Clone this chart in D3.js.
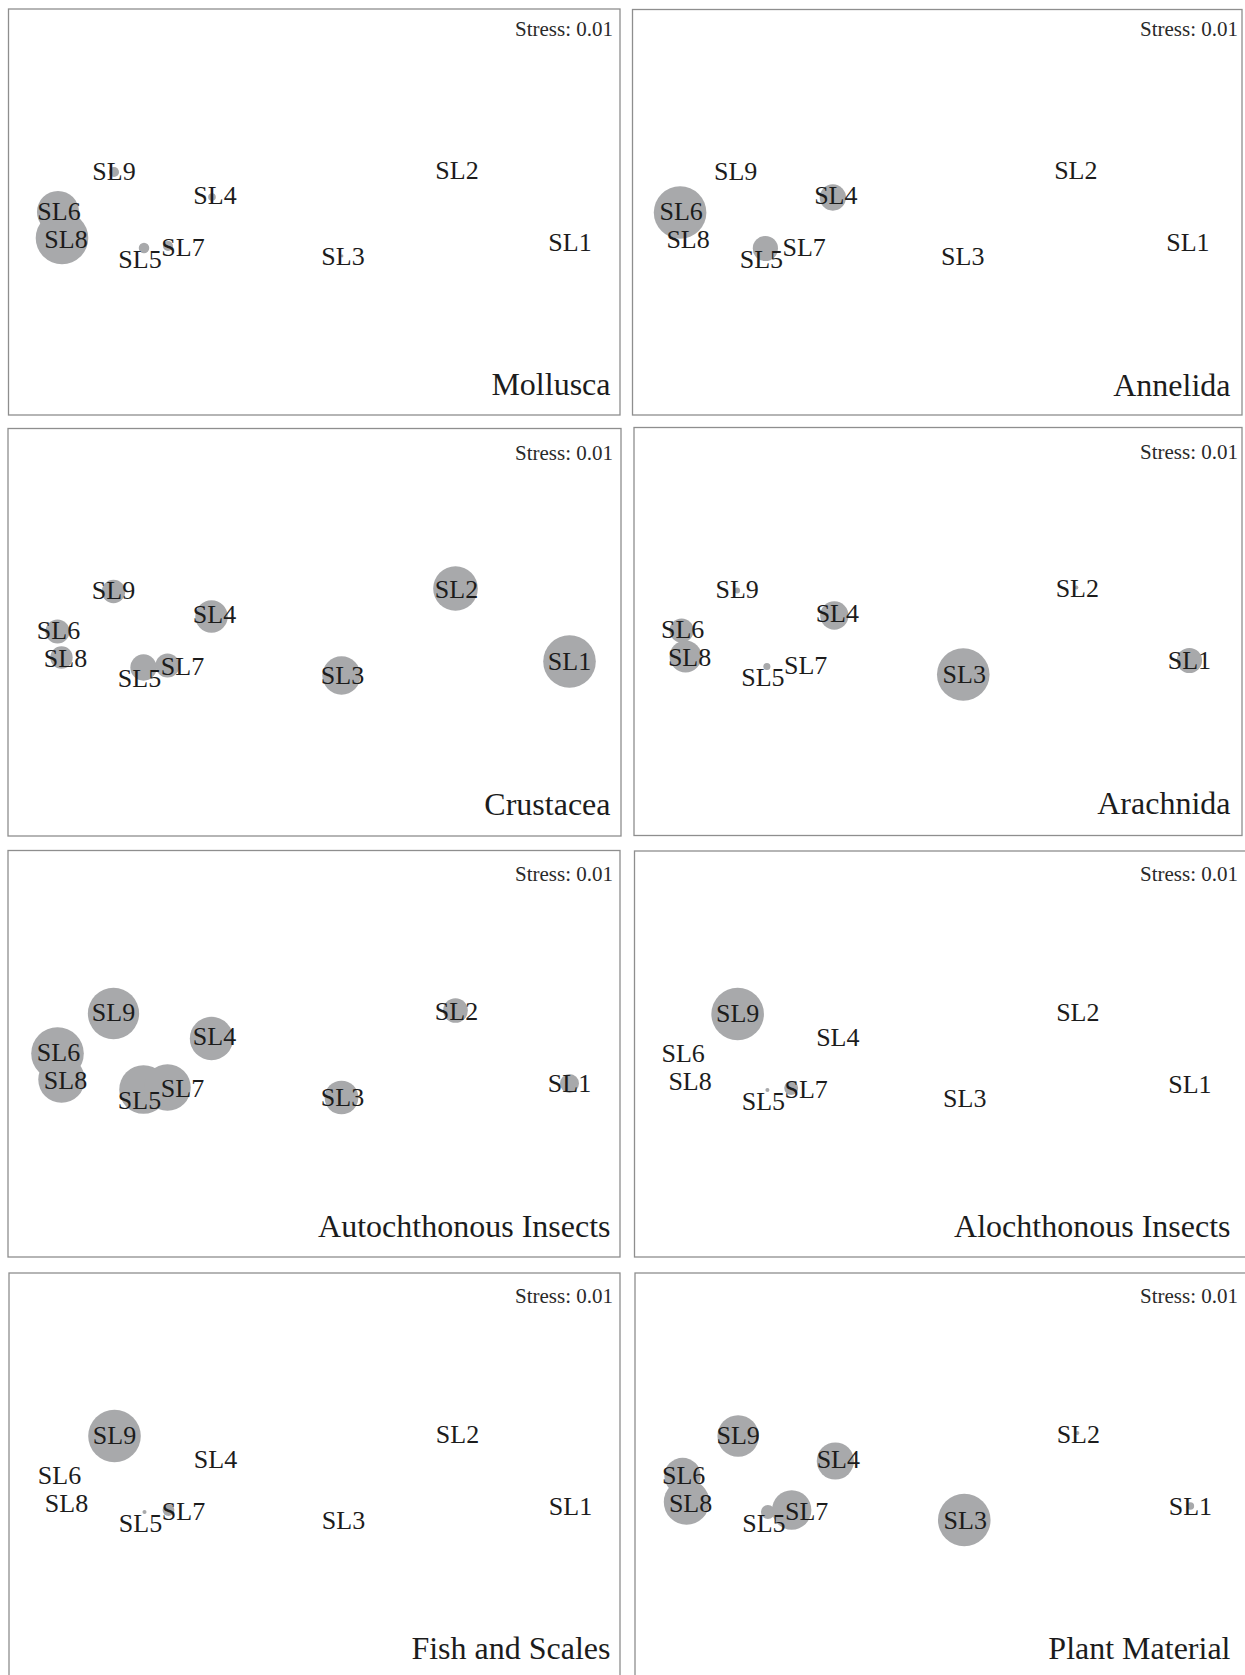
<!DOCTYPE html>
<html>
<head>
<meta charset="utf-8">
<title>NMDS bubble plots of diet components by site</title>
<script src="https://cdn.jsdelivr.net/npm/d3@7"></script>
<style>
  html, body { margin: 0; padding: 0; background: #ffffff; }
  svg { display: block; }
  text { font-family: "Liberation Serif", "Times New Roman", serif; }
</style>
</head>
<body>
<div id="chart"></div>
<script>
// Sampling sites and their NMDS ordination coordinates (shared by every panel)
const sites = ["SL1", "SL2", "SL3", "SL4", "SL5", "SL6", "SL7", "SL8", "SL9"];
const nmds1 = [1.28, 0.71, 0.14, -0.51, -0.85, -1.28, -0.73, -1.26, -1.0];
const nmds2 = [-0.15, 0.215, -0.22, 0.075, -0.18, 0.0, -0.17, -0.13, 0.2];
const stress = 0.01;

// Diet components, one bubble overlay per panel
const taxa = ["Mollusca", "Annelida", "Crustacea", "Arachnida",
              "Autochthonous Insects", "Alochthonous Insects", "Fish and Scales", "Plant Material"];

// Relative abundance of each component at SL1..SL9
const mollusca      = [0, 0, 0.3, 2.1, 4, 64, 3.7, 100, 3.7];
const annelida      = [0, 0, 0, 25, 23, 100, 0, 0, 0];
const crustacea     = [100, 72, 53, 38, 25, 21, 21, 18, 20];
const arachnida     = [23, 0.6, 100, 29, 1.8, 21, 0, 37, 1.3];
const autochthonous = [13, 22, 41, 68, 85, 100, 78, 78, 95];
const alochthonous  = [0, 0, 0, 0, 0.6, 0, 7, 0, 100];
const fishScales    = [0, 0, 0, 0, 0.6, 0, 5, 0, 100];
const plantMaterial = [2, 0.6, 100, 50, 7, 48, 56, 75, 62];

const series = [mollusca, annelida, crustacea, arachnida,
                autochthonous, alochthonous, fishScales, plantMaterial];

// ---- layout ----
const W = 1245, H = 1675;
const boxes = [
  { x: 8.5, y: 9,     w: 611.5, h: 406,   col: 0, row: 0 },
  { x: 632.5, y: 9.5, w: 609.5, h: 405.5, col: 1, row: 0 },
  { x: 8,   y: 428.5, w: 613,   h: 407.5, col: 0, row: 1 },
  { x: 634, y: 427.5, w: 608,   h: 408,   col: 1, row: 1 },
  { x: 8,   y: 850.5, w: 612,   h: 406.5, col: 0, row: 2 },
  { x: 634.5, y: 851, w: 615,   h: 406,   col: 1, row: 2 },
  { x: 9,   y: 1273,  w: 611,   h: 410,   col: 0, row: 3 },
  { x: 635, y: 1273,  w: 615,   h: 410,   col: 1, row: 3 }
];
const titleRight  = [610.5, 1230.5];
const stressRight = [613, 1238];
const stressBaseline = [26.5, 31, 30, 30];
// plotting range of the ordination axis inside each column of panels
const colRange = [[0, 611], [-1.5, 604.5]];

// small label nudges so overlapping site names stay readable
const labelNudge = {
  SL1: [0, 0], SL2: [1, 1], SL3: [1, 0], SL4: [3, -2], SL5: [-4, 11],
  SL6: [1, -1], SL7: [15, 1], SL8: [4, 1], SL9: [0, -1]
};

const y = d3.scaleLinear().domain([-1.015, 1.015]).range([406, 0]);
const maxR = 26.3;

const svg = d3.select("#chart").append("svg")
  .attr("width", W).attr("height", H)
  .attr("viewBox", `0 0 ${W} ${H}`);

svg.append("rect").attr("width", W).attr("height", H).attr("fill", "#ffffff");

const points = sites.map((s, i) => ({ site: s, d1: nmds1[i], d2: nmds2[i] }));

taxa.forEach((taxon, k) => {
  const b = boxes[k];
  const vals = series[k];
  const x = d3.scaleLinear().domain([-1.5275, 1.5275]).range(colRange[b.col]);
  const r = d3.scaleSqrt().domain([0, d3.max(vals)]).range([0, maxR]);

  const g = svg.append("g").attr("transform", `translate(${b.x},${b.y})`);

  g.append("rect")
    .attr("x", 0).attr("y", 0).attr("width", b.w).attr("height", b.h)
    .attr("fill", "none").attr("stroke", "#8e8e8e").attr("stroke-width", 1.3);

  const data = points.map((p, i) => ({ ...p, v: vals[i] }));

  g.selectAll("circle.bubble")
    .data(data.filter(d => d.v > 0))
    .join("circle")
    .attr("class", "bubble")
    .attr("cx", d => x(d.d1))
    .attr("cy", d => y(d.d2))
    .attr("r", d => r(d.v))
    .attr("fill", "#a8a9ab");

  g.selectAll("text.site")
    .data(data)
    .join("text")
    .attr("class", "site")
    .attr("x", d => x(d.d1) + labelNudge[d.site][0])
    .attr("y", d => y(d.d2) + labelNudge[d.site][1])
    .attr("dy", "0.33em")
    .attr("text-anchor", "middle")
    .attr("font-size", 26)
    .attr("fill", "#1c1c1c")
    .text(d => d.site);

  svg.append("text")
    .attr("x", stressRight[b.col])
    .attr("y", b.y + stressBaseline[b.row])
    .attr("text-anchor", "end")
    .attr("font-size", 21)
    .attr("fill", "#2a2a2a")
    .text(`Stress: ${stress.toFixed(2)}`);

  svg.append("text")
    .attr("x", titleRight[b.col])
    .attr("y", b.y + 386)
    .attr("text-anchor", "end")
    .attr("font-size", 32)
    .attr("fill", "#1c1c1c")
    .text(taxon);
});
</script>
</body>
</html>
